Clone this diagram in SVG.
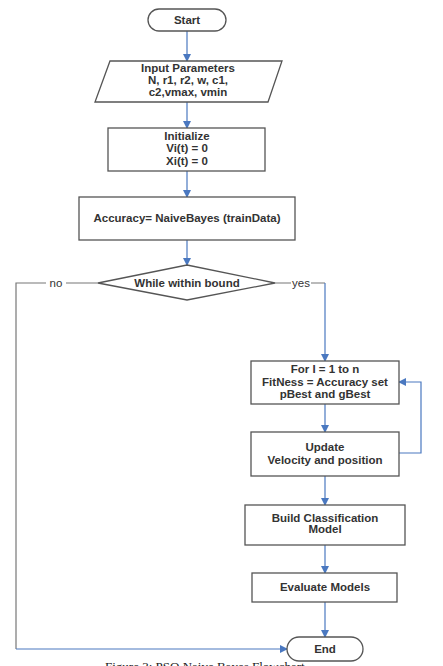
<svg xmlns="http://www.w3.org/2000/svg" width="443" height="666" viewBox="0 0 443 666">
<defs>
<marker id="ah" markerWidth="8" markerHeight="8" refX="7" refY="4" orient="auto" markerUnits="userSpaceOnUse">
<path d="M0,0 L8,4 L0,8 Z" fill="#4a78c0"/>
</marker>
<style>
.box{fill:#fff;stroke:#555;stroke-width:1.3}
.t{font-family:"Liberation Sans",Arial,sans-serif;font-size:11.5px;font-weight:bold;fill:#333;text-anchor:middle}
.lbl{font-family:"Liberation Sans",Arial,sans-serif;font-size:11.5px;fill:#333;text-anchor:middle}
.blue{fill:none;stroke:#4a78c0;stroke-width:1.2}
.gray{fill:none;stroke:#777;stroke-width:1.2}
.cap{font-family:"Liberation Serif","Times New Roman",serif;font-size:13px;fill:#222}
</style>
</defs>
<rect width="443" height="666" fill="#fff"/>
<g id="connectors">
<line class="blue" x1="187" y1="31" x2="187" y2="61" marker-end="url(#ah)"/>
<line class="blue" x1="187" y1="102" x2="187" y2="128" marker-end="url(#ah)"/>
<line class="blue" x1="187" y1="171" x2="187" y2="197" marker-end="url(#ah)"/>
<line class="blue" x1="187" y1="240" x2="187" y2="265" marker-end="url(#ah)"/>
<polyline class="gray" points="98,283 16,283 16,649"/>
<line class="blue" x1="16" y1="649" x2="287" y2="649" marker-end="url(#ah)"/>
<polyline class="gray" points="275,283 325,283"/>
<line class="blue" x1="325" y1="283" x2="325" y2="361" marker-end="url(#ah)"/>
<line class="blue" x1="325" y1="404" x2="325" y2="432" marker-end="url(#ah)"/>
<polyline class="blue" points="399,453 421,453 421,382 399,382" marker-end="url(#ah)"/>
<line class="blue" x1="325" y1="476" x2="325" y2="505" marker-end="url(#ah)"/>
<line class="blue" x1="325" y1="545" x2="325" y2="573" marker-end="url(#ah)"/>
<line class="blue" x1="325" y1="602" x2="325" y2="637" marker-end="url(#ah)"/>
<rect x="46" y="277" width="20" height="12" fill="#fff"/>
<text class="lbl" x="56" y="287">no</text>
<rect x="291" y="277" width="20" height="12" fill="#fff"/>
<text class="lbl" x="301" y="287">yes</text>
</g>
<g id="start">
<rect class="box" x="148" y="9" width="78" height="22" rx="11"/>
<text class="t" x="187" y="24">Start</text>
</g>
<g id="input">
<polygon class="box" points="110,61 282,61 268,102 95,102"/>
<text class="t" x="188" y="72">Input Parameters</text>
<text class="t" x="188" y="84">N, r1, r2, w, c1,</text>
<text class="t" x="188" y="96">c2,vmax, vmin</text>
</g>
<g id="init">
<rect class="box" x="108" y="128" width="157" height="43"/>
<text class="t" x="187" y="140">Initialize</text>
<text class="t" x="187" y="152">Vi(t) = 0</text>
<text class="t" x="187" y="165">Xi(t) = 0</text>
</g>
<g id="accuracy">
<rect class="box" x="79" y="197" width="216" height="43"/>
<text class="t" x="187" y="222">Accuracy= NaiveBayes (trainData)</text>
</g>
<g id="while">
<polygon class="box" points="187,265 275,283 187,300 98,283"/>
<text class="t" x="187" y="287">While within bound</text>
</g>
<g id="for">
<rect class="box" x="251" y="361" width="148" height="43"/>
<text class="t" x="325" y="373">For I = 1 to n</text>
<text class="t" x="325" y="386">FitNess = Accuracy set</text>
<text class="t" x="325" y="398">pBest and gBest</text>
</g>
<g id="update">
<rect class="box" x="251" y="432" width="148" height="44"/>
<text class="t" x="325" y="451">Update</text>
<text class="t" x="325" y="464">Velocity and position</text>
</g>
<g id="build">
<rect class="box" x="245" y="505" width="160" height="40"/>
<text class="t" x="325" y="522">Build Classification</text>
<text class="t" x="325" y="533">Model</text>
</g>
<g id="evaluate">
<rect class="box" x="252" y="573" width="145" height="29"/>
<text class="t" x="325" y="591">Evaluate Models</text>
</g>
<g id="end">
<rect class="box" x="287" y="637" width="76" height="24" rx="12"/>
<text class="t" x="325" y="653">End</text>
</g>
<text class="cap" x="105" y="671">Figure 3: PSO Naive Bayes Flowchart</text>
</svg>
